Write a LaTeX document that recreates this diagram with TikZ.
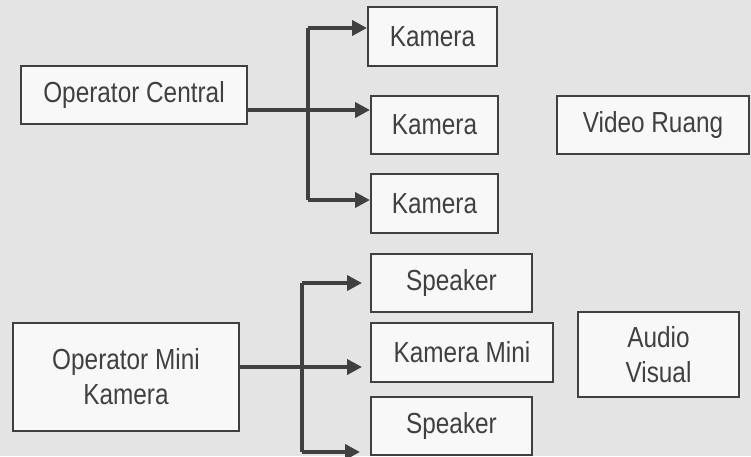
\documentclass[tikz,border=0pt]{standalone}
\usepackage{fontspec}
\setmainfont{Liberation Sans}[FakeStretch=0.84]
\usetikzlibrary{arrows.meta}
\definecolor{ink}{HTML}{404040}
\definecolor{bg}{HTML}{E4E4E4}
\definecolor{boxfill}{HTML}{F8F8F8}
\tikzset{
  box/.style={draw=ink, line width=2pt, fill=boxfill, inner sep=0pt, align=center,
    text=ink, font=\fontsize{29}{35}\selectfont},
  conn/.style={draw=ink, line width=4pt},
  arr/.style={conn, -{Triangle[length=15pt,width=15pt]}},
}
\begin{document}
\begin{tikzpicture}[x=1pt,y=-1pt]
\fill[bg] (0,0) rectangle (751,456);
\useasboundingbox (0,0) rectangle (751,456);
% upper group
\node[box, minimum width=226pt, minimum height=58pt] (oc) at (134,95) {Operator Central};
\node[box, minimum width=129pt, minimum height=59pt] (k1) at (432.5,36.5) {Kamera};
\node[box, minimum width=127pt, minimum height=58pt] (k2) at (434.5,125) {Kamera};
\node[box, minimum width=127pt, minimum height=59pt] (k3) at (434.5,203.5) {Kamera};
\node[box, minimum width=192pt, minimum height=58pt] (vr) at (653,125) {Video Ruang};
\coordinate (t1) at (308,28);
\coordinate (t2) at (308,200);
\coordinate (j1) at (308,110);
\draw[conn] (t1) -- (t2);
\draw[arr] (t1) -- (k1.west|-t1);
\draw[arr] (oc.east|-j1) -- (k2.west|-j1);
\draw[arr] (t2) -- (k3.west|-t2);
% lower group
\node[box, minimum width=226pt, minimum height=108pt] (om) at (126,377) {Operator Mini\\Kamera};
\node[box, minimum width=161pt, minimum height=58pt] (s1) at (451.5,283) {Speaker};
\node[box, minimum width=182pt, minimum height=59pt] (km) at (462,352.5) {Kamera Mini};
\node[box, minimum width=161pt, minimum height=58pt] (s2) at (451.5,426) {Speaker};
\node[box, minimum width=161pt, minimum height=85pt] (av) at (658.5,354.5) {Audio\\Visual};
\coordinate (u1) at (302,283);
\coordinate (u2) at (302,452);
\coordinate (j2) at (302,367);
\draw[conn] (u1) -- (u2);
\draw[arr] (u1) -- ([xshift=-8pt]s1.west|-u1);
\draw[arr] (om.east|-j2) -- ([xshift=-8pt]km.west|-j2);
\draw[arr] (u2) -- ([xshift=-10pt]s2.west|-u2);
\end{tikzpicture}
\end{document}
